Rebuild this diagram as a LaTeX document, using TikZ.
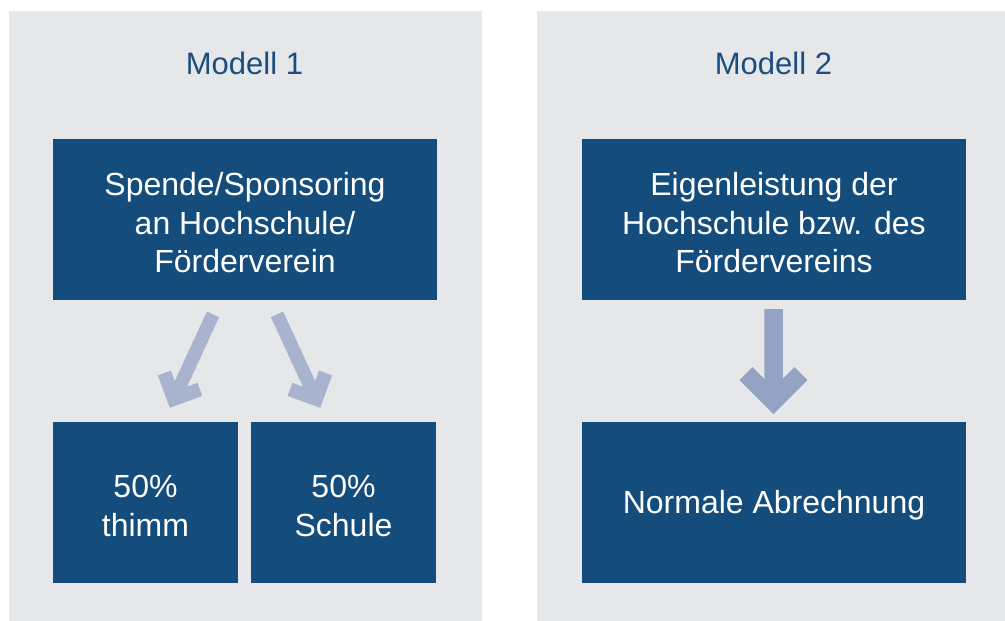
\documentclass[tikz,border=0pt]{standalone}
\usepackage{fontspec}
\setmainfont{Liberation Sans}
\usetikzlibrary{calc}
\definecolor{panelgray}{HTML}{E6E7E9}
\definecolor{boxblue}{HTML}{144C7C}
\definecolor{headblue}{HTML}{1A4E80}
\definecolor{arrowlight}{HTML}{A8B4CE}
\definecolor{arrowdark}{HTML}{94A3C3}
\newcommand{\mytopstrut}{\rule{0pt}{29.5pt}}
\begin{document}
\begin{tikzpicture}[x=1pt,y=1pt,
  panel/.style={fill=panelgray, inner sep=0pt, anchor=south west},
  box/.style={fill=boxblue, text=white, align=center, inner sep=0pt,
    font=\fontsize{32}{38.5}\selectfont},
  heading/.style={text=headblue, font=\fontsize{31}{36}\selectfont, anchor=base, inner sep=0pt},
  pics/fatarrow/.style args={#1/#2/#3/#4}{code={
    \fill[pic actions] (-#2,0) -- (#2,0) -- (#2,{-(#1-1.41421*#4-#2)})
      -- ({#3-0.70711*#4},{-(#1-#3-0.70711*#4)}) -- (#3,{-(#1-#3)}) -- (0,-#1)
      -- (-#3,{-(#1-#3)}) -- ({-(#3-0.70711*#4)},{-(#1-#3-0.70711*#4)})
      -- (-#2,{-(#1-1.41421*#4-#2)}) -- cycle;}}
]
\useasboundingbox (0,0) rectangle (1005,621);
\fill[white] (0,0) rectangle (1005,621);
% panels
\node[panel, minimum width=473pt, minimum height=610pt] (p1) at (9,0) {};
\node[panel, minimum width=468pt, minimum height=610pt] (p2) at (537,0) {};
% headings
\node[heading] (h1) at (244.5,546.5) {Modell 1};
\node[heading] (h2) at (773.5,546.5) {Modell 2};
% boxes
\node[box, minimum width=384pt, minimum height=161pt] (a) at (245,401.5) {\mytopstrut Spende/Sponsoring\\an Hochschule/\\Förderverein};
\node[box, minimum width=185pt, minimum height=161pt] (b1) at (145.5,118.5) {\mytopstrut 50\%\\thimm};
\node[box, minimum width=185pt, minimum height=161pt] (b2) at (343.5,118.5) {\mytopstrut 50\%\\Schule};
\node[box, minimum width=384pt, minimum height=161pt] (c) at (774,401.5) {\mytopstrut Eigenleistung der\\Hochschule bzw. des\\Fördervereins};
\node[box, minimum width=384pt, minimum height=161pt, text height=23pt, text depth=0pt] (d) at (774,118.5) {Normale Abrechnung};
% arrows
\coordinate (s1) at ($(a.south)+(-32,-14.2)$);
\coordinate (s2) at ($(a.south)+(32,-14.2)$);
\coordinate (s3) at ($(c.south)+(-0.5,-9)$);
\pic[fill=arrowlight, rotate=-24.8] at (s1) {fatarrow=103/6.75/24.5/14};
\pic[fill=arrowlight, rotate=24.8] at (s2) {fatarrow=103/6.75/24.5/14};
\pic[fill=arrowdark] at (s3) {fatarrow=105/9.25/34/18.5};
\end{tikzpicture}
\end{document}
